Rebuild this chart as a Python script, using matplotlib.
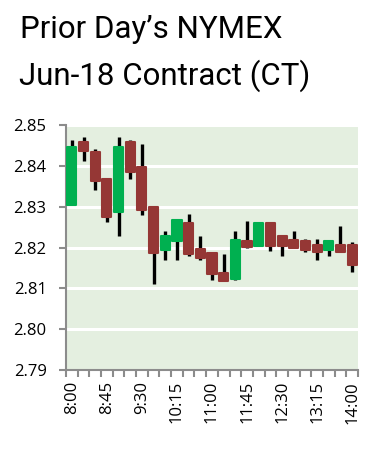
import numpy as np
import matplotlib
matplotlib.use('Agg')
import matplotlib.pyplot as plt
from matplotlib.ticker import FixedLocator

times = ['8:00', '8:15', '8:30', '8:45', '9:00', '9:15', '9:30', '9:45', '10:00',
         '10:15', '10:30', '10:45', '11:00', '11:15', '11:30', '11:45', '12:00',
         '12:15', '12:30', '12:45', '13:00', '13:15', '13:30', '13:45', '14:00']
opens = [2.8305, 2.8459, 2.8435, 2.8368, 2.8287, 2.8459, 2.8398, 2.8299, 2.8193,
         2.8215, 2.8259, 2.8197, 2.8187, 2.8137, 2.8122, 2.8215, 2.8203,
         2.8259, 2.8229, 2.8218, 2.8215, 2.8205, 2.8193, 2.8205, 2.8205]
closes = [2.8447, 2.8436, 2.8364, 2.8275, 2.8446, 2.8386, 2.8293, 2.8187, 2.8229,
          2.8268, 2.8185, 2.8175, 2.8134, 2.8118, 2.8218, 2.8202, 2.8259,
          2.8203, 2.8203, 2.8199, 2.8193, 2.8189, 2.8217, 2.8189, 2.8157]
highs = [2.8463, 2.8471, 2.8441, 2.8370, 2.8471, 2.8463, 2.8454, 2.8299, 2.8241,
         2.8268, 2.8283, 2.8229, 2.8187, 2.8183, 2.8241, 2.8264, 2.8259,
         2.8259, 2.8229, 2.8241, 2.8222, 2.8222, 2.8217, 2.8252, 2.8213]
lows = [2.8305, 2.8411, 2.8340, 2.8262, 2.8228, 2.8368, 2.8280, 2.8110, 2.8169,
        2.8169, 2.8180, 2.8169, 2.8120, 2.8118, 2.8120, 2.8198, 2.8203,
        2.8191, 2.8180, 2.8199, 2.8190, 2.8169, 2.8180, 2.8189, 2.8140]
yticks = [2.79, 2.80, 2.81, 2.82, 2.83, 2.84, 2.85]

green = '#00b050'
red = '#953735'
axis_gray = '#8c8c8c'

fig = plt.figure(figsize=(3.76, 4.55), dpi=100)
ax = fig.add_axes([66/376, 1 - 370/455, 292/376, 245/455])
ax.set_facecolor('#e4efe0')

x = np.arange(len(times))
o = np.array(opens)
c = np.array(closes)
cols = [green if cc > oo else red for oo, cc in zip(o, c)]

# wicks first, bodies on top
ax.vlines(x, lows, highs, color='black', linewidth=2.4, zorder=2)
ax.bar(x, np.abs(c - o), bottom=np.minimum(o, c), width=0.78, color=cols,
       edgecolor=cols, linewidth=1.5, joinstyle='round', zorder=3)

ax.set_xlim(-0.5, len(times) - 0.5)
ax.set_ylim(2.79, 2.85)
ax.set_yticks(yticks)
ax.set_yticklabels([f'{v:.2f}' for v in yticks])
ax.grid(axis='y', color='white', linewidth=2.2, zorder=1)
ax.set_axisbelow(True)

ax.set_xticks(x[::3])
ax.set_xticklabels(times[::3], rotation=90)
ax.xaxis.set_minor_locator(FixedLocator(np.arange(-0.5, len(times), 1)))
ax.tick_params(axis='x', which='major', length=0, pad=8)
ax.tick_params(axis='x', which='minor', length=5, width=1.5, color=axis_gray)
ax.tick_params(axis='y', length=5, width=1.5, color=axis_gray, pad=9)
ax.tick_params(labelsize=12)
for lab in ax.get_xticklabels() + ax.get_yticklabels():
    lab.set_fontfamily('Open Sans')

for s in ['top', 'right']:
    ax.spines[s].set_visible(False)
for s in ['left', 'bottom']:
    ax.spines[s].set_color(axis_gray)
    ax.spines[s].set_linewidth(1.5)

fig.text(20/376, 1 - 38/455, "Prior Day\u2019s NYMEX", fontsize=22.5,
         family='Roboto', va='baseline')
fig.text(19/376, 1 - 85/455, "Jun-18 Contract (CT)", fontsize=22.5,
         family='Roboto', va='baseline')

fig.savefig('out.png', dpi=100)
